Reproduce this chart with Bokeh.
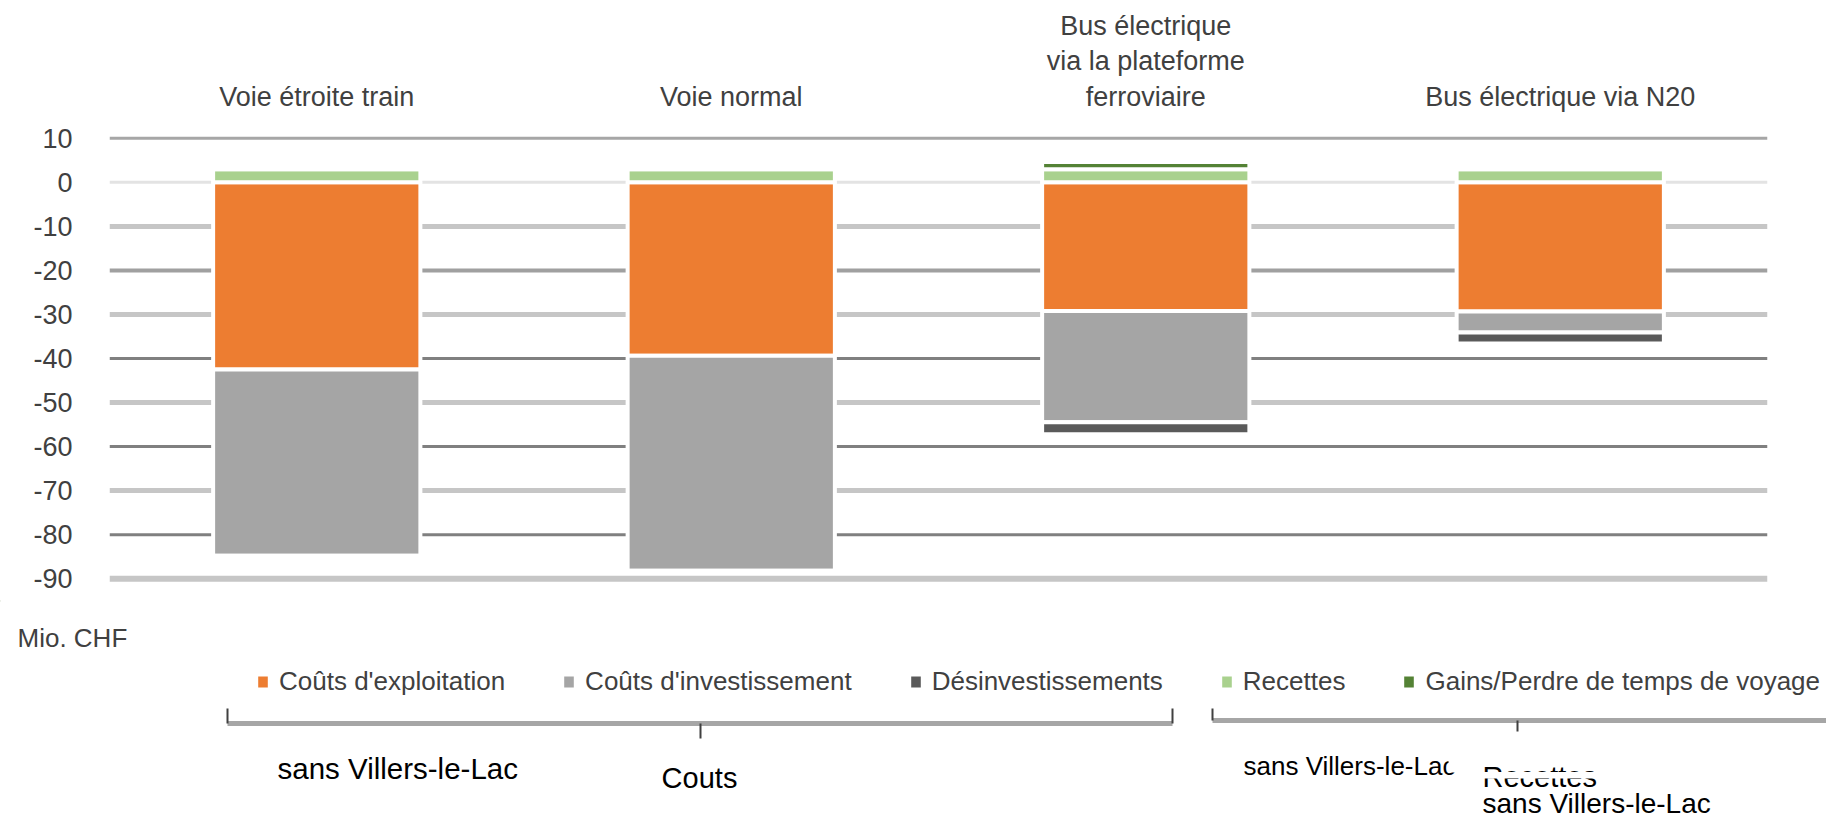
import numpy as np
from bokeh.plotting import figure
from bokeh.layouts import column
from bokeh.models import (Range1d, FixedTicker, Label, BoxAnnotation, ColumnDataSource)
from bokeh.embed import file_html
from bokeh.resources import INLINE

# ---------------- data ----------------
categories = ["Voie étroite train", "Voie normal",
              "Bus électrique\nvia la plateforme\nferroviaire", "Bus électrique via N20"]
series_names = ["Coûts d'exploitation", "Coûts d'investissement", "Désinvestissements",
                "Recettes", "Gains/Perdre de temps de voyage"]
couts_exploitation = [-42.5, -39.4, -29.2, -29.3]
couts_investissement = [-42.3, -48.8, -25.3, -4.8]
desinvestissements = [0.0, 0.0, -2.7, -2.5]
recettes = [3.0, 3.0, 3.0, 3.0]
gains_temps = [0.0, 0.0, 1.6, 0.0]
y_ticks = [10, 0, -10, -20, -30, -40, -50, -60, -70, -80, -90]
y_tick_labels = ["10", "0", "-10", "-20", "-30", "-40", "-50", "-60", "-70", "-80", "-90"]
unit_label = "Mio. CHF"
group_texts = ["sans Villers-le-Lac", "Couts", "sans Villers-le-Lac", "Recettes", "sans Villers-le-Lac"]

# ---------------- styles / layout ----------------
FONT = "Liberation Sans"
TXT = "#404040"
series_colors = ["#ED7D31", "#A5A5A5", "#5A5A5A", "#A9D18E", "#548235"]
grid_colors = ["#A6A6A6", "#E3E3E3", "#C6C6C6", "#A0A0A0", "#C6C6C6", "#808080",
               "#C6C6C6", "#808080", "#C6C6C6", "#808080", "#C6C6C6"]
grid_widths = [3, 3, 5, 4, 5, 3, 5, 3, 5, 3, 6]

W = 1826
H_TOP, H_BOT = 600, 221
FRAME_L, FRAME_R, FRAME_T = 109, 1767, 129
Y_TOP, Y_BOT = 12, -92
FRAME_B = 587

n = len(categories)
xs = list(np.arange(n) + 0.5)

# ---------------- chart ----------------
p = figure(width=W, height=H_TOP, output_backend="svg", toolbar_location=None,
           x_range=Range1d(0, n), y_range=Range1d(Y_BOT, Y_TOP),
           x_axis_location="above",
           min_border_left=FRAME_L, min_border_right=W - FRAME_R,
           min_border_top=FRAME_T, min_border_bottom=H_TOP - FRAME_B)
p.frame_align = False
p.outline_line_color = None
p.xgrid.visible = False
p.ygrid.visible = False

p.segment(x0=0, x1=n, y0=y_ticks, y1=y_ticks, line_color=grid_colors, line_width=grid_widths)

src = ColumnDataSource(dict(x=xs, expl=couts_exploitation, inv=couts_investissement,
                            des=desinvestissements, rec=recettes, gain=gains_temps))
p.vbar_stack(["expl", "inv", "des"], x="x", width=0.5, source=src,
             fill_color=series_colors[:3], line_color="white", line_width=4)
p.vbar_stack(["rec", "gain"], x="x", width=0.5, source=src,
             fill_color=series_colors[3:], line_color="white", line_width=4)

xa = p.xaxis[0]
xa.ticker = FixedTicker(ticks=xs)
xa.major_label_overrides = {t: c for t, c in zip(xs, categories)}
xa.axis_line_color = None
xa.major_tick_line_color = None
xa.minor_tick_line_color = None
xa.major_label_standoff = 12
xa.major_label_text_font = FONT
xa.major_label_text_font_size = "27px"
xa.major_label_text_color = TXT
xa.major_label_text_line_height = 1.18

ya = p.yaxis[0]
ya.ticker = FixedTicker(ticks=y_ticks)
ya.major_label_overrides = {t: l for t, l in zip(y_ticks, y_tick_labels)}
ya.axis_line_color = None
ya.major_tick_line_color = None
ya.minor_tick_line_color = None
ya.major_label_standoff = 31
ya.major_label_text_font = FONT
ya.major_label_text_font_size = "27px"
ya.major_label_text_color = TXT

# ---------------- lower panel: unit, legend, group brackets ----------------
q = figure(width=W, height=H_BOT, output_backend="svg", toolbar_location=None,
           x_range=Range1d(0, W), y_range=Range1d(H_TOP + H_BOT, H_TOP),
           x_axis_type=None, y_axis_type=None,
           min_border_left=0, min_border_right=0, min_border_top=0, min_border_bottom=0)
q.frame_align = False
q.outline_line_color = None
q.xgrid.visible = False
q.ygrid.visible = False

# legend swatches: one bar per series placed outside the visible area of this panel
for name, col in zip(series_names, series_colors):
    q.vbar(x=[-100], top=[H_TOP], bottom=[H_TOP + 1], width=1, fill_color=col,
           line_color="white", line_width=4, legend_label=name)

leg = q.legend[0]
leg.orientation = "horizontal"
leg.location = (254, 124)
leg.padding = 0
leg.margin = 0
leg.spacing = 55
leg.glyph_width = 17
leg.glyph_height = 19
leg.label_standoff = 8
leg.label_text_font = FONT
leg.label_text_font_size = "26px"
leg.label_text_color = TXT
leg.border_line_alpha = 0
leg.background_fill_alpha = 0

q.add_layout(Label(x=17, y=637, text=unit_label, text_font=FONT,
                   text_font_size="26px", text_color=TXT, text_baseline="alphabetic"))

# group brackets
q.segment(x0=[227, 1212], x1=[1172, 1830], y0=[723, 720], y1=[723, 720],
          line_color="#A6A6A6", line_width=5)
q.segment(x0=[227, 1172, 700, 1212, 1517], x1=[227, 1172, 700, 1212, 1517],
          y0=[708, 708, 723, 708, 720], y1=[723, 723, 738, 720, 731],
          line_color="#404040", line_width=2)

spots = [(277, 768, "left", "29.5px"), (699, 777, "center", "29px"), (1243, 765, "left", "26px"),
         (1482, 776, "left", "29px"), (1482, 803, "left", "28px")]
for (sx, sy, al, fs), t in zip(spots, group_texts):
    q.add_layout(Label(x=sx, y=sy, text=t, text_font=FONT, text_font_size=fs,
                       text_color="black", text_align=al, text_baseline="alphabetic"))

# texts clipped as in the original
q.add_layout(BoxAnnotation(left=1448, right=1478, top=738, bottom=772,
                           fill_color="white", fill_alpha=1, line_alpha=0, level="overlay"))
q.add_layout(BoxAnnotation(left=1478, right=1615, top=771.5, bottom=778,
                           fill_color="white", fill_alpha=1, line_alpha=0, level="overlay"))

layout = column(p, q, spacing=0)
open("out.html", "w").write(file_html(layout, INLINE))
